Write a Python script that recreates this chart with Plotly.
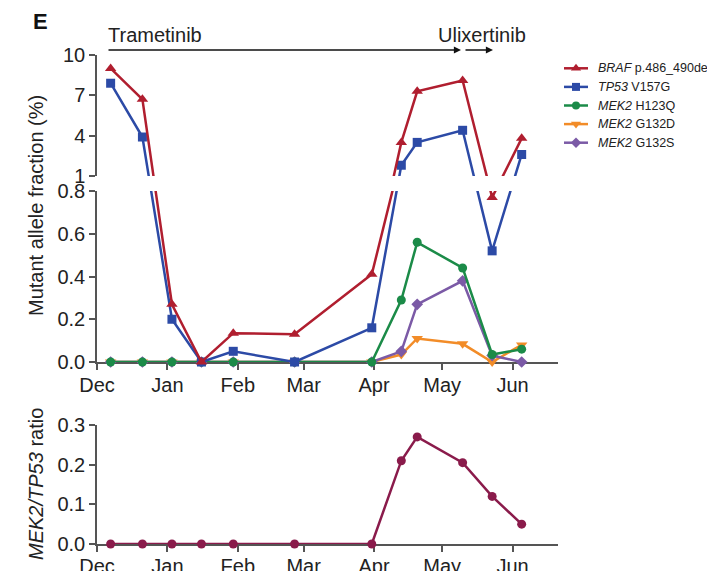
import plotly.graph_objects as go

# ---- data ----
dates = ["2015-12-07", "2015-12-21", "2016-01-03", "2016-01-16", "2016-01-30", "2016-02-26",
         "2016-03-31", "2016-04-13", "2016-04-20", "2016-05-10", "2016-05-23", "2016-06-05"]
braf = [9.0, 6.7, 0.27, 0.0, 0.135, 0.13, 0.41, 3.5, 7.3, 8.1, 0.77, 3.8]
tp53 = [7.9, 3.9, 0.20, 0.0, 0.05, 0.0, 0.16, 1.8, 3.5, 4.4, 0.52, 2.6]
mek2_h123q = [0, 0, 0, 0, 0, 0, 0, 0.29, 0.56, 0.44, 0.035, 0.06]
mek2_g132d = [0, 0, 0, 0, 0, 0, 0, 0.035, 0.11, 0.085, 0.0, 0.08]
mek2_g132s = [0, 0, 0, 0, 0, 0, 0, 0.05, 0.27, 0.38, 0.03, 0.0]
ratio = [0, 0, 0, 0, 0, 0, 0, 0.21, 0.27, 0.205, 0.12, 0.05]

month_ticks = ["2015-12-01", "2016-01-01", "2016-02-01", "2016-03-01",
               "2016-04-01", "2016-05-01", "2016-06-01"]
month_labels = ["Dec", "Jan", "Feb", "Mar", "Apr", "May", "Jun"]
top_ticks = [1, 4, 7, 10]
mid_ticks = [0.0, 0.2, 0.4, 0.6, 0.8]
bot_ticks = [0.0, 0.1, 0.2, 0.3]

legend_names = ["<i>BRAF</i> p.486_490del", "<i>TP53</i> V157G", "<i>MEK2</i> H123Q",
                "<i>MEK2</i> G132D", "<i>MEK2</i> G132S"]

# drawing order bottom -> top: (values, color, symbol, legend row)
series = [
    (mek2_g132d, "#F28C28", "triangle-down", 3),
    (mek2_g132s, "#7B5AA6", "diamond", 4),
    (mek2_h123q, "#1B8B48", "circle", 2),
    (tp53, "#2C4AA6", "square", 1),
    (braf, "#B01E2F", "triangle-up", 0),
]

W, H = 707, 571
FONT = "Liberation Sans, Arial, Helvetica, sans-serif"
TXT = "#222222"
AX = "#555555"


def px_x(p):
    return p / W


def px_y(p):
    return (H - p) / H


# broken y-axis: pixel geometry of the two panels
TOP_PIX = (55, 176)     # 10 .. 1
MID_PIX = (191, 362)    # 0.8 .. 0
MID_MAX, TOP_MIN, TOP_MAX = 0.8, 1.0, 10.0
mid_scale = (MID_PIX[1] - MID_PIX[0]) / MID_MAX
top_scale = (TOP_PIX[1] - TOP_PIX[0]) / (TOP_MAX - TOP_MIN)
gap_px = MID_PIX[0] - TOP_PIX[1]


def brk(v):
    """Map a value to a continuous display coordinate for the broken axis."""
    if v >= TOP_MIN:
        return MID_MAX + (gap_px + (v - TOP_MIN) * top_scale) / mid_scale
    return v


def msize(sym):
    return 10 if sym.startswith("triangle") else 9


fig = go.Figure()

for vals, color, sym, row in series:
    yv = [brk(v) for v in vals]
    common = dict(x=dates, y=yv, mode="lines+markers", cliponaxis=False,
                  line=dict(color=color, width=2.5), showlegend=False, hoverinfo="skip",
                  marker=dict(color=color, symbol=sym, size=msize(sym), line=dict(width=0)))
    if row in (0, 1):
        fig.add_trace(go.Scatter(**common, xaxis="x", yaxis="y"))
    fig.add_trace(go.Scatter(**common, xaxis="x2", yaxis="y2"))

fig.add_trace(go.Scatter(x=dates, y=ratio, mode="lines+markers", cliponaxis=False,
                         line=dict(color="#8A1B4B", width=2.5),
                         marker=dict(color="#8A1B4B", symbol="circle", size=9),
                         xaxis="x3", yaxis="y3", showlegend=False, hoverinfo="skip"))

# manual legend (so the long label is cut at the figure edge like the reference)
for vals, color, sym, row in series:
    fig.add_trace(go.Scatter(x=[4, 28], y=[row, row], mode="lines", cliponaxis=False,
                             line=dict(color=color, width=2.5), xaxis="x4", yaxis="y4",
                             showlegend=False, hoverinfo="skip"))
    fig.add_trace(go.Scatter(x=[16], y=[row], mode="markers", cliponaxis=False,
                             marker=dict(color=color, symbol=sym, size=msize(sym) - 1,
                                         line=dict(width=0)),
                             xaxis="x4", yaxis="y4", showlegend=False, hoverinfo="skip"))

xdom = [px_x(97), px_x(558)]
xrange_ = ["2015-12-01", "2016-06-21"]

axis_common = dict(showline=True, linecolor=AX, linewidth=1.5, ticks="outside",
                   ticklen=6, tickwidth=1.5, tickcolor=AX, showgrid=False, zeroline=False,
                   automargin=False,
                   tickfont=dict(family=FONT, size=20, color=TXT), layer="below traces")

fig.update_layout(
    template="none",
    width=W, height=H,
    margin=dict(l=0, r=0, t=0, b=0, pad=0),
    paper_bgcolor="white", plot_bgcolor="white",
    font=dict(family=FONT, color=TXT),
    showlegend=False,
    xaxis=dict(domain=xdom, range=xrange_, type="date", visible=False, anchor="y",
               automargin=False),
    yaxis=dict(domain=[px_y(TOP_PIX[1]), px_y(TOP_PIX[0])], range=[brk(TOP_MIN), brk(TOP_MAX)],
               tickvals=[brk(v) for v in top_ticks],
               ticktext=[str(v) for v in top_ticks], anchor="x", **axis_common),
    xaxis2=dict(domain=xdom, range=xrange_, type="date", tickvals=month_ticks,
                ticktext=month_labels, anchor="y2", ticklabelstandoff=-2, **axis_common),
    yaxis2=dict(domain=[px_y(MID_PIX[1]), px_y(MID_PIX[0])], range=[0, MID_MAX],
                tickvals=mid_ticks,
                ticktext=["%.1f" % v for v in mid_ticks], anchor="x2", **axis_common),
    xaxis3=dict(domain=xdom, range=xrange_, type="date", tickvals=month_ticks,
                ticktext=month_labels, anchor="y3", ticklabelstandoff=-3, **axis_common),
    yaxis3=dict(domain=[px_y(544), px_y(425)], range=[0, 0.3], tickvals=bot_ticks,
                ticktext=["%.1f" % v for v in bot_ticks], anchor="x3", **axis_common),
    xaxis4=dict(domain=[px_x(560), 1.0], range=[0, 147], visible=False, anchor="y4",
                automargin=False, fixedrange=True),
    yaxis4=dict(domain=[px_y(152), px_y(59)], range=[4.5, -0.5], visible=False, anchor="x4",
                automargin=False, fixedrange=True),
)

ann = []
for vals, color, sym, row in series:
    ann.append(dict(text=legend_names[row], x=36, y=row, xref="x4", yref="y4",
                    xanchor="left", yanchor="middle", showarrow=False,
                    font=dict(family=FONT, size=12.5, color=TXT)))
ann.append(dict(text="<b>E</b>", x=px_x(31), y=px_y(21), xref="paper", yref="paper",
                xanchor="left", yanchor="middle", showarrow=False,
                font=dict(family=FONT, size=22, color="#111")))
ann.append(dict(text="Trametinib", x=px_x(106), y=px_y(35), xref="paper", yref="paper",
                xanchor="left", yanchor="middle", showarrow=False,
                font=dict(family=FONT, size=20, color=TXT)))
ann.append(dict(text="Ulixertinib", x=px_x(482), y=px_y(35), xref="paper", yref="paper",
                xanchor="center", yanchor="middle", showarrow=False,
                font=dict(family=FONT, size=20, color=TXT)))
# treatment arrows
ann.append(dict(text="", x=px_x(461), y=px_y(50), xref="paper", yref="paper",
                ax=-(461 - 107), ay=0, axref="pixel", ayref="pixel", showarrow=True,
                arrowhead=2, arrowsize=1.1, arrowwidth=1.3, arrowcolor="#111", standoff=0))
ann.append(dict(text="", x=px_x(493), y=px_y(50), xref="paper", yref="paper",
                ax=-(493 - 464), ay=0, axref="pixel", ayref="pixel", showarrow=True,
                arrowhead=2, arrowsize=1.1, arrowwidth=1.3, arrowcolor="#111", standoff=0))
# y titles
ann.append(dict(text="Mutant allele fraction (%)", x=px_x(36), y=px_y(206), xref="paper",
                yref="paper", textangle=-90, showarrow=False, xanchor="center", yanchor="middle",
                font=dict(family=FONT, size=20, color=TXT)))
ann.append(dict(text="<i>MEK2/TP53</i> ratio", x=px_x(36), y=px_y(484), xref="paper",
                yref="paper", textangle=-90, showarrow=False, xanchor="center", yanchor="middle",
                font=dict(family=FONT, size=20, color=TXT)))
fig.update_layout(annotations=ann)

fig.write_html("out.html")
